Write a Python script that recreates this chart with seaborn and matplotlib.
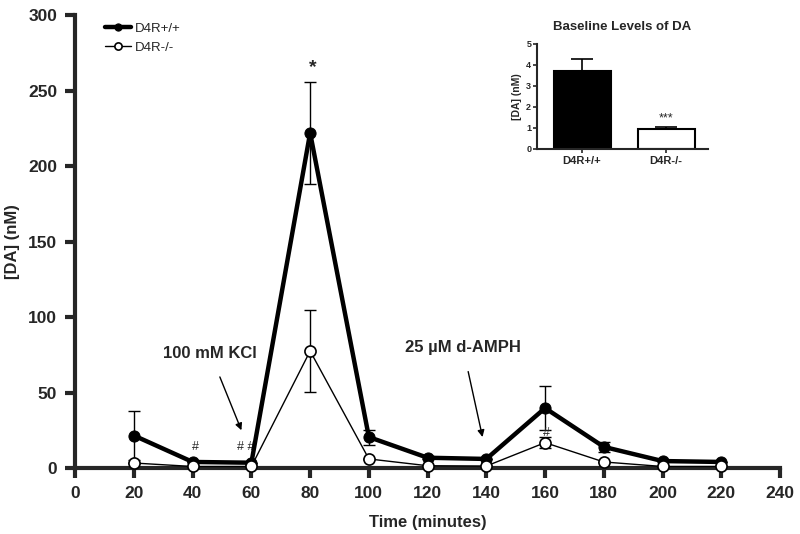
import matplotlib
matplotlib.use("Agg")
import matplotlib.pyplot as plt
import seaborn as sns
import pandas as pd
import numpy as np

# ---- data ----
time_min = [20, 40, 60, 80, 100, 120, 140, 160, 180, 200, 220]
wt_da = [21.5, 4.0, 3.5, 222.0, 20.5, 6.8, 6.0, 39.7, 14.0, 4.6, 4.0]
wt_err = [16.0, 0.0, 0.0, 34.0, 5.0, 1.0, 0.0, 14.6, 3.5, 0.0, 0.0]
ko_da = [3.3, 1.0, 1.0, 77.5, 6.0, 1.5, 1.3, 16.8, 4.0, 1.0, 1.0]
ko_err = [0.0, 0.0, 0.0, 27.0, 0.0, 0.0, 0.0, 3.5, 0.0, 0.0, 0.0]
series_names = ["D4R+/+", "D4R-/-"]

baseline_groups = ["D4R+/+", "D4R-/-"]
baseline_vals = [3.7, 0.95]
baseline_err = [0.6, 0.08]

x_ticks = list(range(0, 241, 20))
y_ticks = list(range(0, 301, 50))

sns.set_style("ticks")
plt.rcParams['font.family'] = ['Liberation Sans', 'DejaVu Sans']

fig = plt.figure(figsize=(8, 5.34), dpi=100)
ax = fig.add_axes([0.094, 0.1236, 0.881, 0.848])

df = pd.DataFrame({
    "time": time_min * 2,
    "da": wt_da + ko_da,
    "group": [series_names[0]] * len(time_min) + [series_names[1]] * len(time_min),
})

# error bars
ax.errorbar(time_min, wt_da, yerr=wt_err, fmt="none", ecolor="black",
            elinewidth=1.0, capsize=4, capthick=1.0, zorder=2)
ax.errorbar(time_min, ko_da, yerr=ko_err, fmt="none", ecolor="black",
            elinewidth=1.0, capsize=4, capthick=1.0, zorder=2)

sns.lineplot(data=df[df.group == series_names[0]], x="time", y="da", ax=ax,
             color="black", linewidth=3.2, marker="o", markersize=8,
             markerfacecolor="black", markeredgecolor="black",
             label=series_names[0], zorder=4, clip_on=False)
sns.lineplot(data=df[df.group == series_names[1]], x="time", y="da", ax=ax,
             color="black", linewidth=1.0, marker="o", markersize=8,
             markerfacecolor="white", markeredgecolor="black", markeredgewidth=1.2,
             label=series_names[1], zorder=5, clip_on=False)

ax.set_xlim(0, 240)
ax.set_ylim(0, 300)
ax.set_xticks(x_ticks)
ax.set_yticks(y_ticks)
for lab in ax.get_xticklabels() + ax.get_yticklabels():
    lab.set_fontweight("bold")
    lab.set_fontsize(12.5)
ax.tick_params(axis="both", width=3, length=7, direction="out", pad=6)
for s in ["top", "right"]:
    ax.spines[s].set_visible(False)
for s in ["left", "bottom"]:
    ax.spines[s].set_linewidth(3)
ax.set_xlabel("Time (minutes)", fontsize=12, fontweight="bold", labelpad=10)
ax.set_ylabel("[DA] (nM)", fontsize=12, fontweight="bold")
ax.yaxis.set_label_coords(-0.078, 0.5)

leg = ax.legend(loc="upper left", bbox_to_anchor=(0.025, 1.01), frameon=False,
                fontsize=9.5, handlelength=2.0, labelspacing=0.5, handletextpad=0.3,
                markerscale=0.65)

# annotations
ax.annotate("100 mM KCl", xy=(56.6, 25), xytext=(46, 76), fontsize=12,
            fontweight="bold", ha="center", va="center",
            arrowprops=dict(arrowstyle="-|>", color="black", lw=1.0,
                            shrinkA=10, shrinkB=0, mutation_scale=10))
ax.annotate("25 \u00b5M d-AMPH", xy=(138.7, 20.5), xytext=(132, 80), fontsize=12,
            fontweight="bold", ha="center", va="center",
            arrowprops=dict(arrowstyle="-|>", color="black", lw=1.0,
                            shrinkA=10, shrinkB=0, mutation_scale=10))
ax.text(81, 265, "*", fontsize=14, fontweight="bold", ha="center", va="center")
ax.text(41, 14, "#", fontsize=9, ha="center", va="center")
ax.text(58, 14, "# #", fontsize=9, ha="center", va="center")
ax.text(160.5, 23, "#", fontsize=9, ha="center", va="center")

# inset
ax2 = fig.add_axes([0.671, 0.721, 0.214, 0.197])
bdf = pd.DataFrame({"group": baseline_groups, "val": baseline_vals})
sns.barplot(data=bdf, x="group", y="val", ax=ax2, width=0.68,
            palette=["black", "white"], hue="group", legend=False,
            edgecolor="black", linewidth=1.5)
ax2.errorbar([0, 1], baseline_vals, yerr=[[0, 0], baseline_err], fmt="none",
             ecolor="black", elinewidth=1.2, capsize=8, capthick=1.2)
ax2.set_xlim(-0.54, 1.5)
ax2.set_ylim(0, 5)
ax2.set_yticks([0, 1, 2, 3, 4, 5])
ax2.set_xlabel("")
ax2.set_ylabel("[DA] (nM)", fontsize=7.5, fontweight="bold", labelpad=3)
ax2.set_title("Baseline Levels of DA", fontsize=9.5, fontweight="bold", pad=10)
for lab in ax2.get_xticklabels() + ax2.get_yticklabels():
    lab.set_fontweight("bold")
ax2.tick_params(axis="x", labelsize=8, length=3, width=1.2, pad=2)
ax2.tick_params(axis="y", labelsize=6.5, length=3, width=1.2, pad=1)
for s in ["top", "right"]:
    ax2.spines[s].set_visible(False)
for s in ["left", "bottom"]:
    ax2.spines[s].set_linewidth(1.5)
ax2.text(1, 1.45, "***", fontsize=9, ha="center", va="center")

fig.savefig("out.png", dpi=100)
